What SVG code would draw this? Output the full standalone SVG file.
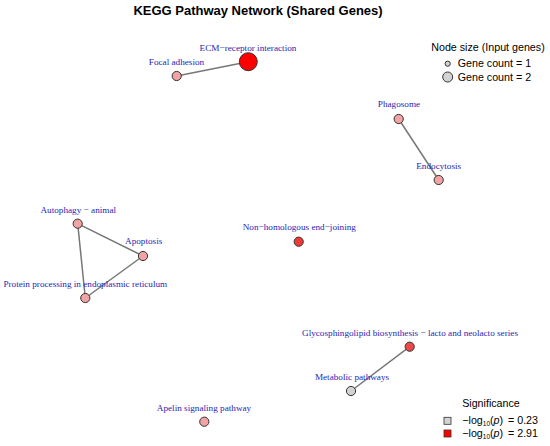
<svg xmlns="http://www.w3.org/2000/svg" width="550" height="446" viewBox="0 0 550 446">
<style>
.title{font-family:"Liberation Sans",Arial,sans-serif;font-size:13px;font-weight:bold;fill:#000}
.lbl{font-family:"Liberation Serif","Times New Roman",serif;font-size:9.2px;fill:#2626b4;text-anchor:middle}
.leg{font-family:"Liberation Sans",Arial,sans-serif;font-size:10.7px;fill:#000}
.node{stroke:#333;stroke-width:1}
.edge{stroke:#777;stroke-width:1.5;fill:none}
.pink{fill:#f2a3a3}
</style>
<rect width="550" height="446" fill="#fff"/>
<text class="title" x="258" y="15" text-anchor="middle">KEGG Pathway Network (Shared Genes)</text>
<g id="edges">
<line class="edge" x1="176.7" y1="76" x2="248.3" y2="61.7"/>
<line class="edge" x1="398.7" y1="119" x2="438.7" y2="180"/>
<line class="edge" x1="77.7" y1="223.7" x2="143" y2="256"/>
<line class="edge" x1="77.7" y1="223.7" x2="85.3" y2="298"/>
<line class="edge" x1="143" y1="256" x2="85.3" y2="298"/>
<line class="edge" x1="409.7" y1="346.7" x2="351" y2="391"/>
</g>
<g id="n-focal"><circle class="node pink" cx="176.7" cy="76" r="4.6"/><text class="lbl" x="176.5" y="65">Focal adhesion</text></g>
<g id="n-ecm"><circle class="node" cx="248.3" cy="61.7" r="9" fill="#ff0000"/><text class="lbl" x="248" y="51">ECM−receptor interaction</text></g>
<g id="n-phago"><circle class="node pink" cx="398.7" cy="119" r="4.6"/><text class="lbl" x="399" y="107.3">Phagosome</text></g>
<g id="n-endo"><circle class="node pink" cx="438.7" cy="180" r="4.6"/><text class="lbl" x="438.7" y="169">Endocytosis</text></g>
<g id="n-auto"><circle class="node pink" cx="77.7" cy="223.7" r="4.6"/><text class="lbl" x="78.3" y="212.7">Autophagy − animal</text></g>
<g id="n-apop"><circle class="node pink" cx="143" cy="256" r="4.6"/><text class="lbl" x="143.7" y="244.3">Apoptosis</text></g>
<g id="n-protein"><circle class="node pink" cx="85.3" cy="298" r="4.6"/><text class="lbl" x="85.3" y="287.3">Protein processing in endoplasmic reticulum</text></g>
<g id="n-nhej"><circle class="node" cx="298.7" cy="241.7" r="4.6" fill="#f03a3a"/><text class="lbl" x="299.3" y="230">Non−homologous end−joining</text></g>
<g id="n-glyco"><circle class="node" cx="409.7" cy="346.7" r="4.6" fill="#f04848"/><text class="lbl" x="410" y="336">Glycosphingolipid biosynthesis − lacto and neolacto series</text></g>
<g id="n-metab"><circle class="node" cx="351" cy="391" r="4.6" fill="#d3d3d3"/><text class="lbl" x="352" y="380">Metabolic pathways</text></g>
<g id="n-apelin"><circle class="node pink" cx="204.3" cy="421.7" r="4.6"/><text class="lbl" x="204" y="410.7">Apelin signaling pathway</text></g>
<g id="legend-size">
<text class="leg" x="488" y="50.7" text-anchor="middle">Node size (Input genes)</text>
<circle cx="447.7" cy="63.7" r="2.6" fill="#d3d3d3" stroke="#333" stroke-width="1"/>
<text class="leg" x="457.7" y="67.3">Gene count = 1</text>
<circle cx="447.7" cy="77" r="5" fill="#d3d3d3" stroke="#333" stroke-width="1"/>
<text class="leg" x="457.7" y="80.7">Gene count = 2</text>
</g>
<g id="legend-sig">
<text class="leg" x="491" y="406.7" text-anchor="middle">Significance</text>
<rect x="444" y="417.3" width="7" height="7" fill="#d3d3d3" stroke="#333" stroke-width="0.8"/>
<text class="leg" x="462.3" y="424" font-size="10">−log<tspan font-size="6.5" dy="2">10</tspan><tspan dy="-2">(</tspan><tspan font-style="italic">p</tspan>)</text>
<text class="leg" x="508" y="424">= 0.23</text>
<rect x="444" y="430" width="7" height="7" fill="#ff0000" stroke="#333" stroke-width="0.8"/>
<text class="leg" x="462.3" y="436.7" font-size="10">−log<tspan font-size="6.5" dy="2">10</tspan><tspan dy="-2">(</tspan><tspan font-style="italic">p</tspan>)</text>
<text class="leg" x="508" y="436.7">= 2.91</text>
</g>
</svg>
